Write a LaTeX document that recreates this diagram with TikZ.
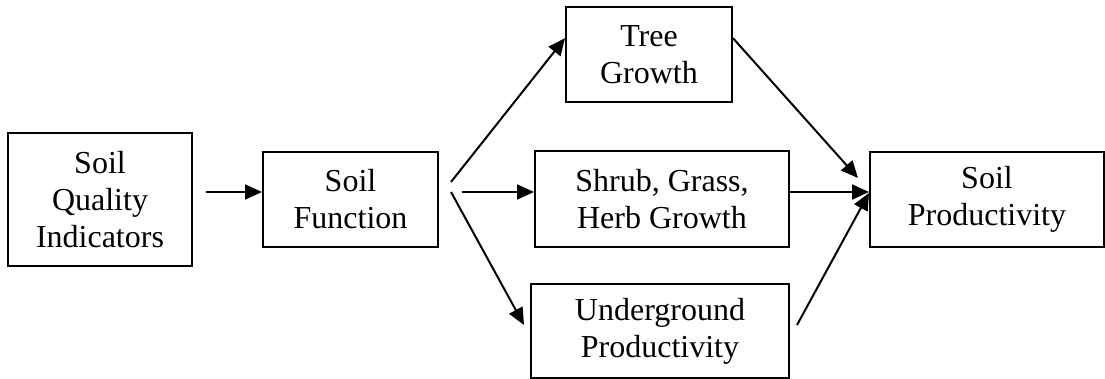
\documentclass[tikz,border=0pt]{standalone}
\usepackage{fontspec}
\setmainfont{Liberation Serif}
\usetikzlibrary{arrows.meta}

\tikzset{
    box/.style={draw, line width=2pt, align=center, inner sep=0pt,
        font=\fontsize{32}{37}\selectfont},
    arr/.style={-{Triangle[length=17pt,width=15pt]}, line width=2pt}
}

\begin{document}
\begin{tikzpicture}[x=1pt, y=-1pt]
    \useasboundingbox (0,0) rectangle (1105,379);

    % Boxes
    \node[box, minimum width=184pt, minimum height=133pt] (sqi) at (100,199.5) {Soil\\Quality\\Indicators};
    \node[box, minimum width=175pt, minimum height=95pt] (func) at (350.5,199.5) {Soil\\Function};
    \node[box, minimum width=166pt, minimum height=95pt] (tree) at (649,54.5) {Tree\\Growth};
    \node[box, minimum width=254pt, minimum height=96pt] (shrub) at (662,199) {Shrub, Grass,\\Herb Growth};
    \node[box, minimum width=258pt, minimum height=94pt] (under) at (660,331) {Underground\\Productivity};
    \node[box, minimum width=234pt, minimum height=95pt] (prod) at (987,199.5) {Soil\\Productivity};

    % Free ends
    \coordinate (fanup) at (451,182);
    \coordinate (fanmid) at (462,192);
    \coordinate (fanlow) at (451,192);
    \coordinate (hub) at (858,178);

    % Arrows
    \draw[arr] ([xshift=13pt,yshift=7.5pt]sqi.east) -- ([yshift=7.5pt]func.west);
    \draw[arr] (fanup) -- (tree.169);
    \draw[arr] (fanmid) -- ([yshift=7pt]shrub.west);
    \draw[arr] (fanlow) -- ([xshift=-6pt,yshift=6pt]under.west);
    \draw[arr] (tree.11) -- (hub);
    \draw[arr] ([yshift=7pt]shrub.east) -- ([yshift=7.5pt]prod.west);
    \draw[arr] ([xshift=7pt,yshift=6pt]under.east) -- ([yshift=6.5pt]prod.west);
\end{tikzpicture}
\end{document}
